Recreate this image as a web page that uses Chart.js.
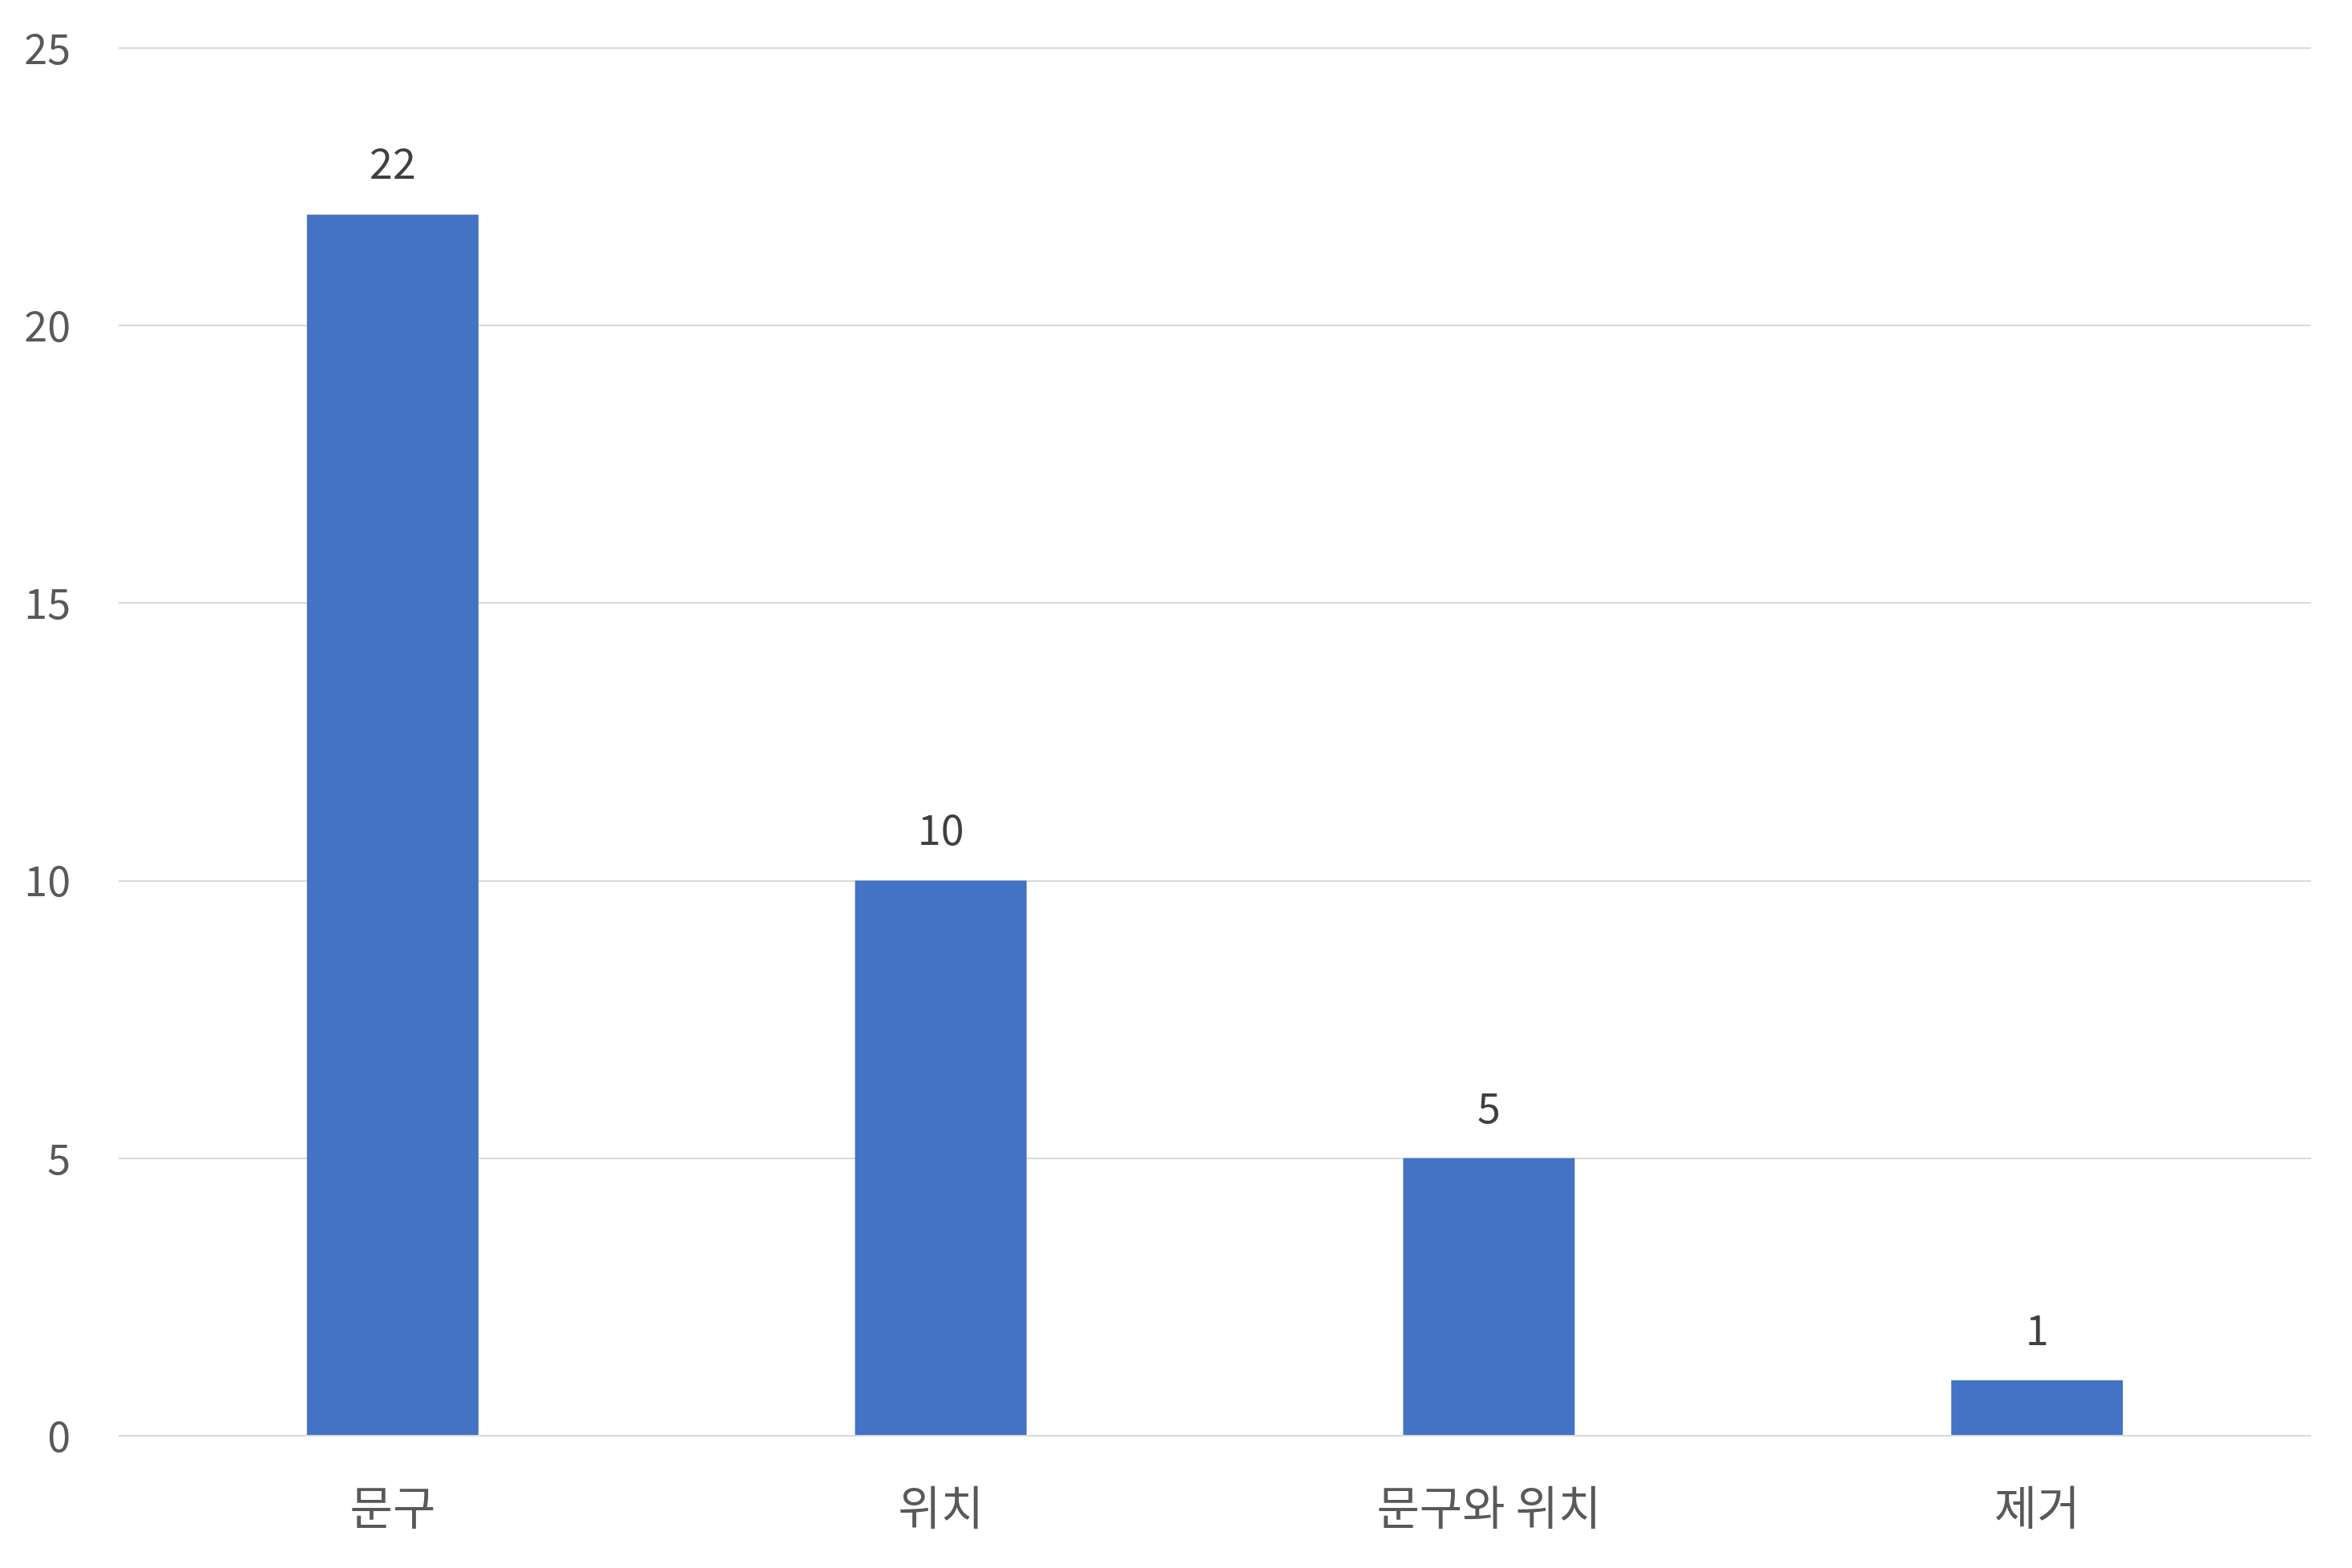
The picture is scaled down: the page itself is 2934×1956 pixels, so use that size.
<!DOCTYPE html>
<html>
<head>
<meta charset="utf-8">
<script src="https://cdn.jsdelivr.net/npm/chart.js@4.4.1/dist/chart.umd.min.js"></script>
<style>
    html, body { margin: 0; padding: 0; background: #ffffff; }
    #wrap { width: 2934px; height: 1956px; }
</style>
</head>
<body>
<div id="wrap"><canvas id="chart" width="2934" height="1956"></canvas></div>
<script>
// values
const categories = ["문구", "위치", "문구와 위치", "제거"];
const counts = [22, 10, 5, 1];
const yTicks = [0, 5, 10, 15, 20, 25];

const FONT = "'Noto Sans CJK KR', 'Noto Sans', sans-serif";

// draws the value above each bar, like excel's data labels
const valueLabels = {
    id: "valueLabels",
    afterDatasetsDraw(chart) {
        let ctx = chart.ctx;
        let meta = chart.getDatasetMeta(0);
        ctx.save();
        ctx.font = "52px " + FONT;
        ctx.fillStyle = "#404040";
        ctx.textAlign = "center";
        ctx.textBaseline = "middle";
        for (var i = 0; i < meta.data.length; i++) {
            let bar = meta.data[i];
            ctx.fillText(String(counts[i]), bar.x, bar.y - 64);
        }
        ctx.restore();
    }
};

new Chart(document.getElementById("chart"), {
    type: "bar",
    data: {
        labels: categories,
        datasets: [{
            data: counts,
            backgroundColor: "#4472c4",
            borderWidth: 0,
            barPercentage: 0.313,
            categoryPercentage: 1.0
        }]
    },
    options: {
        responsive: false,
        animation: false,
        layout: { padding: { top: 60, right: 51, bottom: 0, left: 0 } },
        plugins: {
            legend: { display: false },
            tooltip: { enabled: false }
        },
        scales: {
            x: {
                grid: { display: false, drawTicks: false },
                border: { display: false },
                ticks: {
                    color: "#595959",
                    font: { family: FONT, size: 58 },
                    padding: 54
                },
                afterFit(scale) { scale.height = 165; }
            },
            y: {
                min: 0,
                max: 25,
                afterBuildTicks(scale) {
                    scale.ticks = yTicks.map(v => ({ value: v }));
                },
                grid: { color: "#d9d9d9", lineWidth: 2, drawTicks: false },
                border: { display: false },
                ticks: {
                    color: "#595959",
                    font: { family: FONT, size: 52 },
                    padding: 60
                },
                afterFit(scale) {
                    scale.width = 148;
                    // keep the plot top fixed by layout padding only
                    scale.paddingTop = 0;
                    scale.paddingBottom = 0;
                }
            }
        }
    },
    plugins: [valueLabels]
});
</script>
</body>
</html>
